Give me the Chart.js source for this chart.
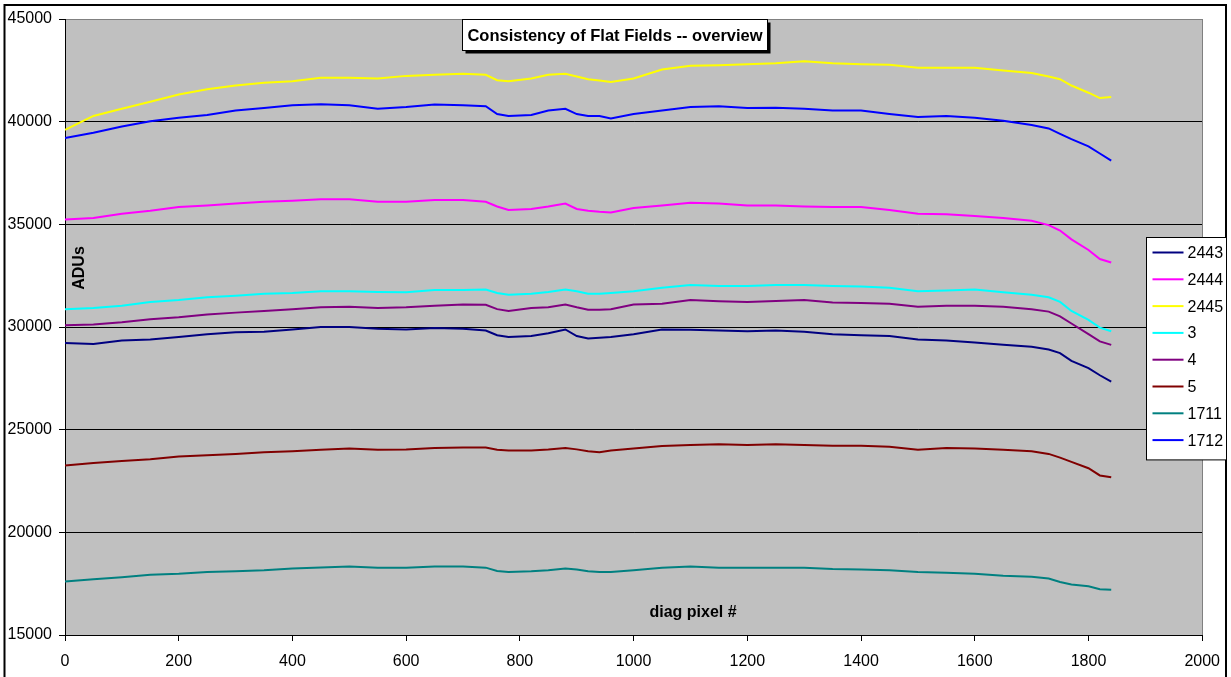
<!DOCTYPE html>
<html>
<head>
<meta charset="utf-8">
<script src="https://cdn.jsdelivr.net/npm/chart.js@4/dist/chart.umd.min.js"></script>
<style>
  html, body { margin: 0; padding: 0; background: #fff; }
  #wrap { width: 1231px; height: 677px; position: relative; }
</style>
</head>
<body>
<div id="wrap"><canvas id="c"></canvas></div>
<script>
// Diagonal pixel positions at which the flat-field profiles are sampled
const diagPixel = [0, 50, 100, 150, 200, 250, 300, 350, 400, 450, 500, 550, 600, 650, 700, 740, 760, 780, 820, 850,
  880, 900, 920, 940, 960, 1000, 1050, 1100, 1150, 1200, 1250, 1300, 1350, 1400, 1450, 1500, 1550, 1600, 1650, 1700,
  1730, 1750, 1770, 1800, 1820, 1840];

// Mean ADUs along the diagonal for each flat field
const flat2443 = [29220, 29170, 29340, 29390, 29510, 29650, 29740, 29770, 29880, 30000, 30000, 29910, 29880, 29950, 29910, 29830, 29600, 29510, 29560, 29700,
  29880, 29560, 29440, 29480, 29510, 29650, 29880, 29860, 29830, 29790, 29830, 29770, 29650, 29600, 29560, 29390, 29340, 29240, 29130, 29040,
  28900, 28730, 28350, 28000, 27650, 27340];
const flat2444 = [35230, 35310, 35520, 35660, 35840, 35920, 36010, 36100, 36150, 36220, 36220, 36100, 36100, 36190, 36190, 36100, 35870, 35700, 35750, 35870,
  36010, 35750, 35660, 35610, 35580, 35800, 35920, 36050, 36010, 35920, 35920, 35870, 35840, 35840, 35700, 35520, 35490, 35400, 35310, 35170,
  34960, 34700, 34270, 33750, 33310, 33140];
const flat2445 = [39600, 40280, 40630, 40970, 41320, 41580, 41760, 41900, 41970, 42140, 42140, 42100, 42230, 42280, 42330, 42280, 42020, 41970, 42100, 42280,
  42330, 42200, 42070, 42000, 41930, 42100, 42540, 42720, 42750, 42800, 42840, 42940, 42840, 42800, 42770, 42630, 42630, 42630, 42490, 42370,
  42200, 42070, 41760, 41410, 41150, 41200];
const flat3 = [30870, 30920, 31040, 31220, 31310, 31450, 31520, 31620, 31660, 31740, 31740, 31710, 31690, 31800, 31800, 31830, 31660, 31570, 31620, 31710,
  31830, 31740, 31620, 31620, 31660, 31740, 31910, 32040, 32000, 32000, 32040, 32040, 32000, 31970, 31910, 31740, 31780, 31830, 31690, 31570,
  31450, 31220, 30780, 30350, 29970, 29790];
const flat4 = [30090, 30120, 30230, 30380, 30470, 30610, 30700, 30780, 30870, 30960, 30990, 30920, 30960, 31040, 31100, 31080, 30870, 30780, 30920, 30960,
  31100, 30960, 30840, 30840, 30870, 31100, 31130, 31310, 31260, 31220, 31270, 31310, 31190, 31170, 31130, 30990, 31040, 31040, 30990, 30870,
  30750, 30520, 30170, 29650, 29300, 29130];
const flat5 = [23260, 23380, 23470, 23560, 23690, 23760, 23820, 23900, 23950, 24020, 24080, 24020, 24040, 24110, 24130, 24130, 24020, 23990, 23990, 24040,
  24110, 24040, 23950, 23900, 23990, 24080, 24200, 24250, 24290, 24250, 24290, 24250, 24220, 24220, 24170, 24020, 24110, 24080, 24020, 23950,
  23820, 23640, 23430, 23120, 22770, 22680];
const flat1711 = [17600, 17720, 17810, 17930, 17980, 18070, 18100, 18150, 18240, 18290, 18330, 18280, 18280, 18330, 18330, 18280, 18120, 18070, 18100, 18150,
  18240, 18190, 18100, 18070, 18070, 18150, 18280, 18330, 18280, 18280, 18280, 18280, 18210, 18190, 18150, 18070, 18030, 17980, 17890, 17840,
  17750, 17580, 17460, 17370, 17230, 17200];
const flat1712 = [39200, 39460, 39760, 40020, 40190, 40330, 40540, 40660, 40800, 40850, 40800, 40630, 40710, 40840, 40800, 40750, 40370, 40280, 40330, 40540,
  40630, 40370, 40280, 40280, 40160, 40370, 40540, 40710, 40750, 40660, 40680, 40630, 40540, 40540, 40370, 40230, 40280, 40190, 40050, 39840,
  39670, 39410, 39150, 38800, 38450, 38100];

const seriesNames = ['2443', '2444', '2445', '3', '4', '5', '1711', '1712'];
const seriesValues = [flat2443, flat2444, flat2445, flat3, flat4, flat5, flat1711, flat1712];

// Axis ranges and tick steps
const yMin = 15000, yMax = 45000, yStep = 5000;
const xMin = 0, xMax = 2000, xStep = 200;

const chartTitle = 'Consistency of Flat Fields -- overview';
const yTitle = 'ADUs';
const xTitle = 'diag pixel #';

// Line colours, in the same order as the series
const lineColours = ['#000080', '#FF00FF', '#FFFF00', '#00FFFF', '#800080', '#800000', '#008080', '#0000FF'];

const FONT = '"Liberation Sans", Arial, Helvetica, sans-serif';

const datasets = seriesNames.map((name, i) => ({
  label: name,
  data: diagPixel.map((x, j) => ({ x: x, y: seriesValues[i][j] })),
  borderColor: lineColours[i],
  backgroundColor: lineColours[i],
  borderWidth: 2,
  pointRadius: 0,
  tension: 0,
  fill: false,
  order: seriesNames.length - i
}));

// Frame, grey plot area, boxed title, axis captions and a boxed legend
const excelLook = {
  id: 'excelLook',
  beforeDraw(chart) {
    const ctx = chart.ctx, a = chart.chartArea;
    ctx.save();
    ctx.fillStyle = '#fff';
    ctx.fillRect(0, 0, chart.width, chart.height);
    ctx.strokeStyle = '#000';
    ctx.lineWidth = 2;
    ctx.strokeRect(4.5, 5, 1221.5, chart.height + 10);
    ctx.fillStyle = '#C0C0C0';
    ctx.fillRect(a.left, a.top, a.right - a.left, a.bottom - a.top);
    ctx.restore();
  },
  afterDraw(chart) {
    const ctx = chart.ctx, a = chart.chartArea;
    ctx.save();
    // right edge of the plot area
    ctx.strokeStyle = '#808080';
    ctx.lineWidth = 1;
    ctx.beginPath();
    ctx.moveTo(Math.round(a.right) + 0.5, a.top);
    ctx.lineTo(Math.round(a.right) + 0.5, a.bottom);
    ctx.stroke();

    // title box with drop shadow
    const bx = 462.5, by = 19.5, bw = 305, bh = 31;
    ctx.fillStyle = '#000';
    ctx.fillRect(bx + 3, by + 3, bw, bh);
    ctx.fillStyle = '#fff';
    ctx.fillRect(bx, by, bw, bh);
    ctx.strokeStyle = '#000';
    ctx.strokeRect(bx, by, bw, bh);
    ctx.fillStyle = '#000';
    ctx.font = 'bold 16.5px ' + FONT;
    ctx.textAlign = 'center';
    ctx.textBaseline = 'middle';
    ctx.fillText(chartTitle, bx + bw / 2, by + bh / 2 + 1);

    // axis captions inside the plot area
    ctx.font = 'bold 16px ' + FONT;
    ctx.fillText(xTitle, 693, 613);
    ctx.save();
    ctx.translate(80, 268);
    ctx.rotate(-Math.PI / 2);
    ctx.fillText(yTitle, 0, 0);
    ctx.restore();

    // legend
    const lx = 1146.5, ly = 237.5, lw = 80, rowH = 26.8;
    const n = chart.data.datasets.length;
    const lh = n * rowH + 8;
    ctx.fillStyle = '#fff';
    ctx.fillRect(lx, ly, lw, lh);
    ctx.strokeStyle = '#000';
    ctx.strokeRect(lx, ly, lw, lh);
    ctx.font = '16px ' + FONT;
    ctx.textAlign = 'left';
    chart.data.datasets.forEach((ds, i) => {
      const yy = ly + 15 + i * rowH;
      ctx.strokeStyle = ds.borderColor;
      ctx.lineWidth = 2;
      ctx.beginPath();
      ctx.moveTo(lx + 6, yy);
      ctx.lineTo(lx + 37, yy);
      ctx.stroke();
      ctx.fillStyle = '#000';
      ctx.fillText(ds.label, lx + 41, yy + 1);
    });
    ctx.restore();
  }
};

new Chart(document.getElementById('c'), {
  type: 'line',
  data: { datasets: datasets },
  plugins: [excelLook],
  options: {
    responsive: true,
    maintainAspectRatio: false,
    animation: false,
    events: [],
    layout: { padding: { left: 0, top: 19, right: 26, bottom: 0 } },
    plugins: {
      legend: { display: false },
      title: { display: false },
      tooltip: { enabled: false }
    },
    scales: {
      x: {
        type: 'linear',
        min: xMin,
        max: xMax,
        ticks: {
          stepSize: xStep,
          color: '#000',
          font: { family: FONT, size: 16 },
          padding: 11,
          maxRotation: 0,
          callback: v => String(v)
        },
        grid: { drawOnChartArea: false, drawTicks: true, tickLength: 6, color: '#000', tickColor: '#000' },
        border: { display: true, color: '#000', width: 1 },
        afterFit: s => { s.height = 42; }
      },
      y: {
        type: 'linear',
        min: yMin,
        max: yMax,
        ticks: {
          stepSize: yStep,
          color: '#000',
          font: { family: FONT, size: 16 },
          padding: 7,
          callback: v => String(v)
        },
        grid: {
          drawOnChartArea: true,
          drawTicks: true,
          tickLength: 6,
          color: c => (c.tick && c.tick.value === yMax) ? '#808080' : '#000',
          tickColor: '#000',
          lineWidth: 1
        },
        border: { display: true, color: '#000', width: 1 },
        afterFit: s => { s.width = 65; }
      }
    }
  }
});
</script>
</body>
</html>
